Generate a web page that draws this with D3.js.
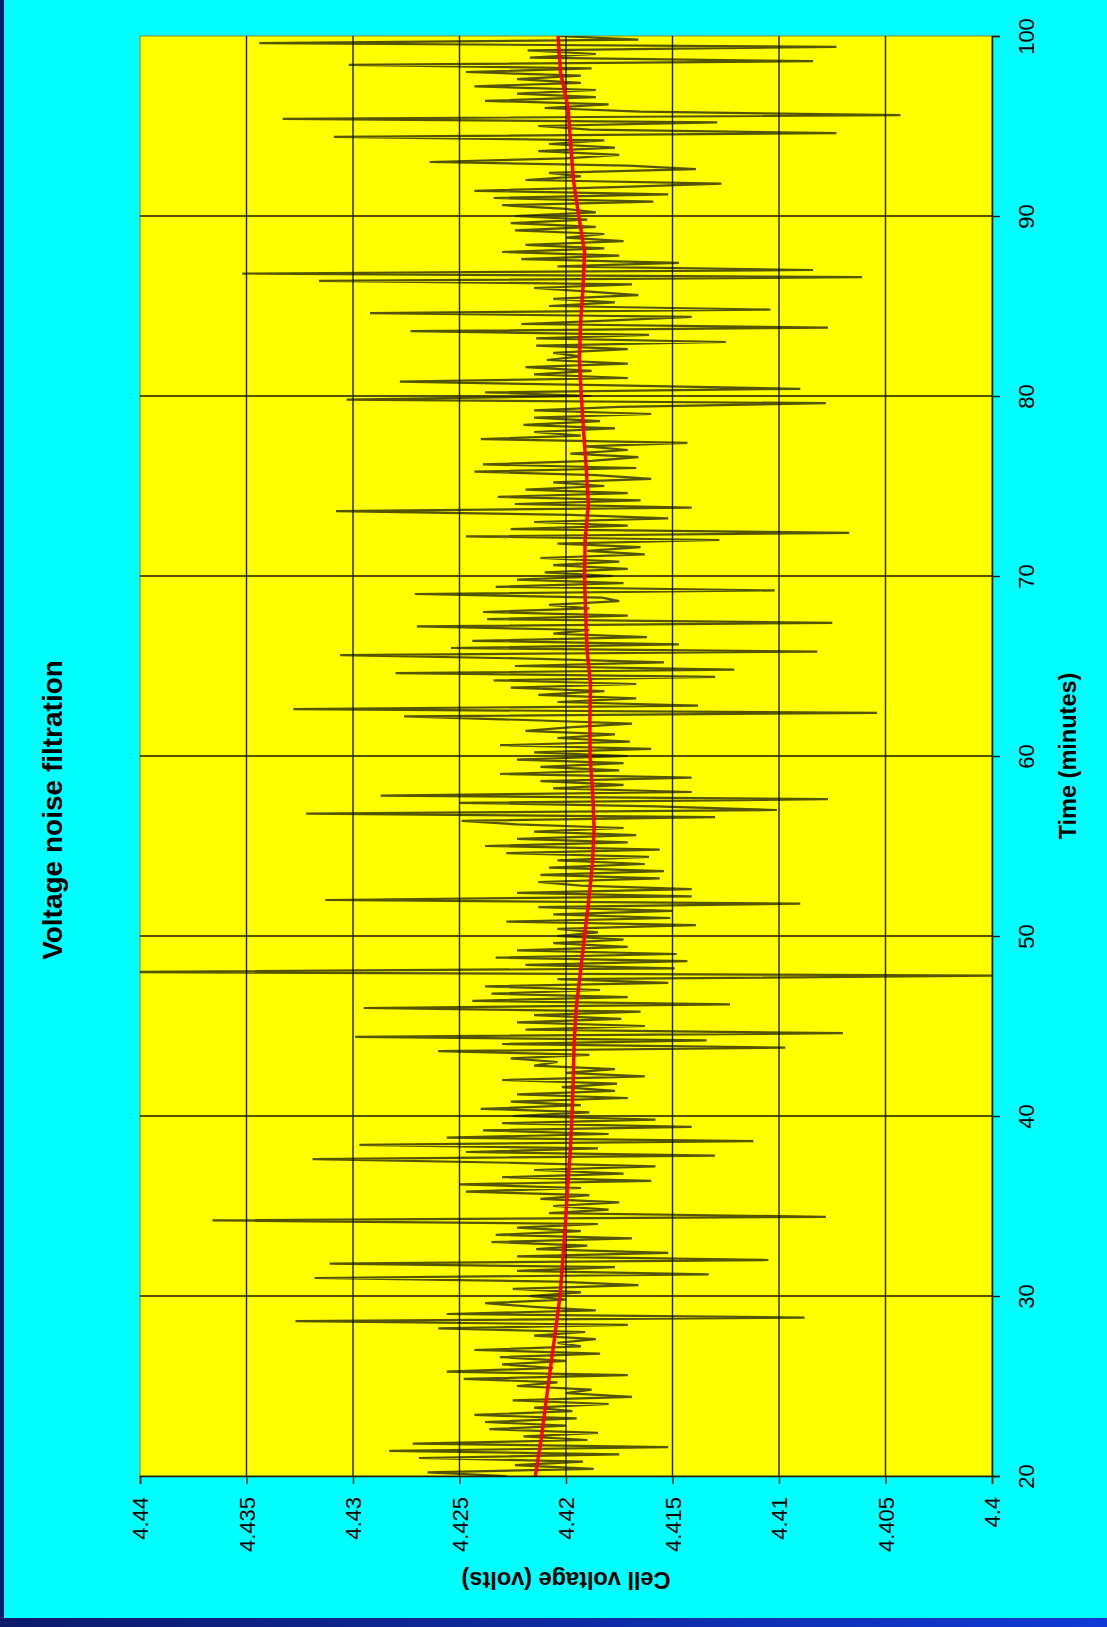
<!DOCTYPE html>
<html>
<head>
<meta charset="utf-8">
<script src="https://cdn.jsdelivr.net/npm/d3@7"></script>
<style>
  html, body { margin: 0; padding: 0; background: #00ffff; }
  svg { display: block; }
</style>
</head>
<body>
<svg id="chart" width="1107" height="1627"></svg>
<script>
// Logged cell voltage, one sample every 0.2 minutes, grouped by 10-minute block
const sampleStep = 0.2;
const volts20 = [4.4228,4.4265,4.4187,4.4224,4.4192, 4.4269,4.4175,4.4283,4.4152,4.4272,
                 4.4190,4.4220,4.4185,4.4236,4.4200, 4.4238,4.4195,4.4243,4.4197,4.4215,
                 4.4180,4.4225,4.4169,4.4200,4.4188, 4.4223,4.4204,4.4248,4.4171,4.4256,
                 4.4206,4.4230,4.4200,4.4231,4.4184, 4.4243,4.4193,4.4204,4.4186,4.4215,
                 4.4191,4.4260,4.4171,4.4327,4.4088, 4.4256,4.4186,4.4215,4.4238,4.4200];
const volts30 = [4.4217,4.4193,4.4225,4.4166,4.4204, 4.4318,4.4133,4.4223,4.4177,4.4311,
                 4.4105,4.4223,4.4152,4.4214,4.4190, 4.4235,4.4169,4.4233,4.4193,4.4223,
                 4.4185,4.4366,4.4078,4.4208,4.4180, 4.4206,4.4175,4.4212,4.4189,4.4247,
                 4.4193,4.4250,4.4160,4.4230,4.4173, 4.4215,4.4158,4.4225,4.4319,4.4130,
                 4.4247,4.4185,4.4297,4.4112,4.4256, 4.4180,4.4239,4.4141,4.4230,4.4158];
const volts40 = [4.4225,4.4189,4.4240,4.4193,4.4226, 4.4171,4.4223,4.4177,4.4202,4.4176,
                 4.4230,4.4163,4.4200,4.4177,4.4215, 4.4204,4.4226,4.4189,4.4260,4.4097,
                 4.4230,4.4134,4.4299,4.4070,4.4219, 4.4163,4.4223,4.4174,4.4215,4.4165,
                 4.4295,4.4123,4.4244,4.4171,4.4235, 4.4184,4.4238,4.4152,4.4204,4.3990,
                 4.4410,4.4149,4.4219,4.4143,4.4233, 4.4148,4.4223,4.4171,4.4206,4.4173];
const volts50 = [4.4204,4.4185,4.4204,4.4139,4.4228, 4.4151,4.4206,4.4150,4.4213,4.4090,
                 4.4313,4.4141,4.4223,4.4141,4.4193, 4.4213,4.4156,4.4212,4.4154,4.4208,
                 4.4163,4.4204,4.4161,4.4228,4.4156, 4.4238,4.4171,4.4223,4.4167,4.4215,
                 4.4173,4.4223,4.4249,4.4130,4.4322, 4.4101,4.4158,4.4250,4.4077,4.4287,
                 4.4141,4.4206,4.4173,4.4212,4.4141, 4.4231,4.4175,4.4212,4.4173,4.4223];
const volts60 = [4.4171,4.4215,4.4160,4.4231,4.4170, 4.4204,4.4177,4.4219,4.4197,4.4169,
                 4.4219,4.4276,4.4054,4.4328,4.4138, 4.4204,4.4167,4.4213,4.4182,4.4226,
                 4.4167,4.4234,4.4130,4.4280,4.4121, 4.4224,4.4154,4.4212,4.4306,4.4082,
                 4.4254,4.4147,4.4244,4.4162,4.4206, 4.4189,4.4270,4.4075,4.4237,4.4171,
                 4.4239,4.4189,4.4208,4.4175,4.4183, 4.4271,4.4102,4.4233,4.4173,4.4223];
const volts70 = [4.4178,4.4210,4.4171,4.4206,4.4175, 4.4212,4.4163,4.4190,4.4165,4.4204,
                 4.4128,4.4247,4.4067,4.4226,4.4171, 4.4215,4.4152,4.4198,4.4308,4.4141,
                 4.4224,4.4165,4.4232,4.4171,4.4219, 4.4182,4.4206,4.4160,4.4186,4.4243,
                 4.4167,4.4239,4.4188,4.4166,4.4198, 4.4171,4.4191,4.4143,4.4240,4.4193,
                 4.4215,4.4177,4.4220,4.4184,4.4215, 4.4160,4.4215,4.4175,4.4078,4.4303];
const volts80 = [4.4188,4.4238,4.4090,4.4184,4.4278, 4.4171,4.4215,4.4188,4.4219,4.4171,
                 4.4209,4.4193,4.4206,4.4171,4.4214, 4.4125,4.4214,4.4161,4.4273,4.4077,
                 4.4221,4.4178,4.4141,4.4292,4.4104, 4.4208,4.4177,4.4206,4.4166,4.4189,
                 4.4215,4.4169,4.4316,4.4061,4.4352, 4.4084,4.4204,4.4147,4.4221,4.4175,
                 4.4230,4.4182,4.4219,4.4173,4.4200, 4.4182,4.4224,4.4186,4.4226,4.4190];
const volts90 = [4.4224,4.4186,4.4200,4.4230,4.4159, 4.4234,4.4152,4.4243,4.4177,4.4127,
                 4.4219,4.4193,4.4208,4.4139,4.4171, 4.4264,4.4200,4.4175,4.4213,4.4177,
                 4.4208,4.4182,4.4309,4.4073,4.4189, 4.4213,4.4129,4.4333,4.4043,4.4165,
                 4.4210,4.4180,4.4238,4.4186,4.4223, 4.4186,4.4243,4.4193,4.4223,4.4193,
                 4.4247,4.4188,4.4302,4.4084,4.4217, 4.4186,4.4218,4.4073,4.4344,4.4166,
                 4.4204];
const blockStarts = [20, 30, 40, 50, 60, 70, 80, 90];

// Filtered voltage, every 2 minutes from 20 to 100
const filterStep = 2;
const filteredVolts = [4.42144,4.42117,4.42095,4.42073,4.42050, 4.42028,4.42015,4.42003,4.41993,4.41980,
                       4.41972,4.41966,4.41962,4.41952,4.41932, 4.41913,4.41893,4.41876,4.41868,4.41875,
                       4.41887,4.41888,4.41885,4.41902,4.41908, 4.41913,4.41910,4.41895,4.41905,4.41917,
                       4.41928,4.41937,4.41932,4.41920,4.41913, 4.41940,4.41965,4.41978,4.41990,4.42026,
                       4.42037];

const timeTicks = [20, 30, 40, 50, 60, 70, 80, 90, 100];
const voltTicks = [4.44, 4.435, 4.43, 4.425, 4.42, 4.415, 4.41, 4.405, 4.4];
const voltTickLabels = ["4.44", "4.435", "4.43", "4.425", "4.42", "4.415", "4.41", "4.405", "4.4"];

const chartTitle = "Voltage noise filtration";
const timeTitle = "Time (minutes)";
const voltTitle = "Cell voltage (volts)";

// ---------------------------------------------------------------------------
// The chart is laid out on its side: time runs bottom-to-top, voltage right-to-left.
const W = 1107, H = 1627;
const plot = { left: 140, right: 992, top: 36, bottom: 1476 };
const font = "Arial, 'Liberation Sans', Helvetica, sans-serif";

const svg = d3.select("#chart");

const defs = svg.append("defs");
const frameGrad = defs.append("linearGradient").attr("id", "frameGrad")
  .attr("x1", "0%").attr("x2", "100%").attr("y1", "0%").attr("y2", "0%");
frameGrad.append("stop").attr("offset", "0%").attr("stop-color", "#0c1a6a");
frameGrad.append("stop").attr("offset", "100%").attr("stop-color", "#0f3ad6");
defs.append("clipPath").attr("id", "plotClip")
  .append("rect")
  .attr("x", plot.left).attr("y", plot.top)
  .attr("width", plot.right - plot.left).attr("height", plot.bottom - plot.top);

// background and frame strips
svg.append("rect").attr("width", W).attr("height", H).attr("fill", "#00ffff");
svg.append("rect").attr("x", 0).attr("y", 0).attr("width", 4).attr("height", H).attr("fill", "#0c1a6a");
svg.append("rect").attr("x", 0).attr("y", 1618).attr("width", W).attr("height", H - 1618).attr("fill", "url(#frameGrad)");

const yT = d3.scaleLinear().domain([20, 100]).range([plot.bottom, plot.top]);
const xV = d3.scaleLinear().domain([4.44, 4.4]).range([plot.left, plot.right]);

// plot area
svg.append("rect")
  .attr("x", plot.left).attr("y", plot.top)
  .attr("width", plot.right - plot.left).attr("height", plot.bottom - plot.top)
  .attr("fill", "#ffff00").attr("stroke", "#8a8a30").attr("stroke-width", 1);

// gridlines
const grid = svg.append("g").attr("stroke", "#1e1e00").attr("stroke-width", 1.4);
grid.selectAll("line.v").data(voltTicks.slice(1, -1)).join("line")
  .attr("x1", d => xV(d)).attr("x2", d => xV(d))
  .attr("y1", plot.top).attr("y2", plot.bottom);
grid.selectAll("line.t").data(timeTicks.slice(1, -1)).join("line")
  .attr("y1", d => yT(d)).attr("y2", d => yT(d))
  .attr("x1", plot.left).attr("x2", plot.right);

// raw samples
const blocks = [volts20, volts30, volts40, volts50, volts60, volts70, volts80, volts90];
const samples = blocks.flatMap((arr, b) =>
  arr.map((v, i) => ({ t: +(blockStarts[b] + i * sampleStep).toFixed(1), v })));
const filtered = filteredVolts.map((v, i) => ({ t: 20 + i * filterStep, v }));

const line = d3.line().x(d => xV(d.v)).y(d => yT(d.t));

const marks = svg.append("g").attr("clip-path", "url(#plotClip)");
marks.append("path").datum(samples)
  .attr("d", line)
  .attr("fill", "none")
  .attr("stroke", "#141400")
  .attr("stroke-opacity", 0.72)
  .attr("stroke-width", 2.2)
  .attr("stroke-linejoin", "miter");
marks.append("path").datum(filtered)
  .attr("d", line)
  .attr("fill", "none")
  .attr("stroke", "#ff0000")
  .attr("stroke-width", 3.5)
  .attr("stroke-linejoin", "round");

// time axis (right edge)
const tAxis = svg.append("g")
  .attr("transform", `translate(${plot.right},0)`)
  .call(d3.axisRight(yT).tickValues(timeTicks).tickSize(8).tickFormat(d3.format("d")));
tAxis.select(".domain").attr("stroke", "#1e1e00").attr("stroke-width", 1.6);
tAxis.selectAll(".tick line").attr("stroke", "#1e1e00").attr("stroke-width", 1.4);
tAxis.selectAll(".tick text")
  .attr("x", null).attr("dy", null)
  .attr("transform", "translate(42,0) rotate(-90)")
  .attr("text-anchor", "middle")
  .attr("fill", "#000")
  .style("font-family", font).style("font-size", "22px");

// voltage axis (bottom edge)
const vAxis = svg.append("g")
  .attr("transform", `translate(0,${plot.bottom})`)
  .call(d3.axisBottom(xV).tickValues(voltTicks).tickSize(8)
    .tickFormat((d, i) => voltTickLabels[i]));
vAxis.select(".domain").attr("stroke", "#1e1e00").attr("stroke-width", 1.6);
vAxis.selectAll(".tick line").attr("stroke", "#1e1e00").attr("stroke-width", 1.4);
vAxis.selectAll(".tick text")
  .attr("y", null).attr("dy", null)
  .attr("transform", "translate(7.5,21) rotate(-90)")
  .attr("text-anchor", "end")
  .attr("fill", "#000")
  .style("font-family", font).style("font-size", "22px");

// titles
svg.append("text")
  .attr("transform", "translate(62,810) rotate(-90)")
  .attr("text-anchor", "middle")
  .style("font-family", font).style("font-size", "28px").style("font-weight", "bold")
  .text(chartTitle);
svg.append("text")
  .attr("transform", `translate(1076,${(plot.top + plot.bottom) / 2}) rotate(-90)`)
  .attr("text-anchor", "middle")
  .style("font-family", font).style("font-size", "23.5px").style("font-weight", "bold")
  .text(timeTitle);
svg.append("text")
  .attr("transform", `translate(${(plot.left + plot.right) / 2},1572) rotate(180)`)
  .attr("text-anchor", "middle")
  .style("font-family", font).style("font-size", "23.5px").style("font-weight", "bold")
  .text(voltTitle);
</script>
</body>
</html>
